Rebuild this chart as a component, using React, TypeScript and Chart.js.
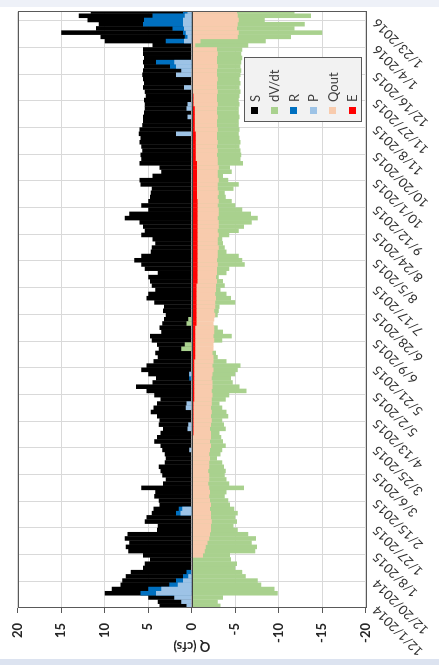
import { useEffect, useRef } from "react";
import { Chart, registerables } from "chart.js";

Chart.register(...registerables);

// Each value covers a 3-day bin starting 12/1/2014
const BIN_DAYS = 3;

const TICK_DAYS = [0, 19, 38, 57, 76, 95, 114, 133, 152, 171, 190, 209, 228, 247, 266, 285, 304, 323, 342, 361, 380, 399, 418];
const TICK_LABELS = [
  "12/1/2014", "12/20/2014", "1/8/2015", "1/27/2015", "2/15/2015", "3/6/2015", "3/25/2015", "4/13/2015",
  "5/2/2015", "5/21/2015", "6/9/2015", "6/28/2015", "7/17/2015", "8/5/2015", "8/24/2015", "9/12/2015",
  "10/1/2015", "10/20/2015", "11/8/2015", "11/27/2015", "12/16/2015", "1/4/2016", "1/23/2016",
];
const Y_TICKS = [20, 15, 10, 5, 0, -5, -10, -15, -20];

const S = [
  3.7, 3.9, 5.0, 10.0, 9.2, 8.2, 8.0, 7.6, 7.0, 5.6,
  5.4, 4.8, 5.6, 7.3, 7.6, 7.2, 7.7, 7.4, 4.0, 3.9,
  5.4, 5.2, 4.6, 4.4, 3.7, 3.8, 4.3, 4.2, 5.8, 3.3,
  3.0, 3.4, 3.6, 3.8, 3.1, 3.0, 3.1, 3.4, 3.6, 4.3,
  4.0, 3.6, 3.3, 3.8, 3.7, 4.0, 4.7, 4.4, 4.0, 3.6,
  4.3, 5.2, 6.4, 4.5, 4.1, 5.0, 5.8, 5.2, 4.4, 3.9,
  4.2, 3.8, 4.0, 4.6, 4.8, 3.5, 3.7, 3.4, 3.2, 3.0,
  3.3, 3.2, 4.3, 5.2, 5.0, 4.2, 4.6, 4.8, 5.0, 3.9,
  5.4, 5.8, 6.6, 5.8, 4.7, 4.6, 4.2, 4.5, 5.8, 5.4,
  5.6, 6.0, 7.7, 7.2, 5.0, 5.8, 5.0, 4.8, 4.7, 4.6,
  5.9, 6.0, 4.5, 3.5, 3.7, 6.0, 5.8, 5.9, 5.7, 5.8,
  6.0, 5.9, 6.1, 6.0, 5.7, 5.6, 5.6, 5.5, 5.4, 5.4,
  5.5, 5.3, 5.4, 5.6, 5.5, 5.6, 5.7, 5.6, 5.5, 5.6,
  5.5, 5.6, 5.6, 4.5, 10.0, 10.5, 15.0, 11.0, 10.7, 12.0,
  13.0, 11.6,
];

const DVDT = [
  -3.3, -3.0, -3.6, -9.9, -9.5, -8.0, -7.6, -6.2, -5.8, -5.0,
  -5.2, -4.5, -4.4, -7.3, -7.5, -6.9, -7.4, -6.5, -5.3, -4.8,
  -5.2, -5.0, -5.3, -4.9, -4.4, -4.2, -3.8, -4.0, -6.0, -4.3,
  -4.0, -3.8, -3.9, -3.7, -3.5, -2.9, -3.3, -3.5, -3.9, -3.6,
  -3.4, -3.2, -3.9, -3.7, -3.5, -4.2, -4.0, -3.5, -3.2, -3.9,
  -4.3, -6.3, -5.5, -4.7, -4.5, -5.0, -5.3, -5.6, -4.0, -3.0,
  -2.8, 1.2, 0.8, -3.5, -4.6, -3.6, -3.0, 0.6, 0.4, -3.0,
  -3.1, -3.2, -5.0, -4.5, -4.0, -3.3, -3.8, -3.6, -3.1, -4.0,
  -4.3, -6.1, -5.8, -5.4, -4.0, -3.8, -3.6, -3.5, -4.3, -5.4,
  -6.0, -6.9, -7.6, -6.8, -5.8, -5.0, -4.6, -3.9, -3.8, -4.8,
  -5.4, -4.2, -3.6, -4.6, -4.4, -5.9, -5.6, -5.7, -5.6, -5.5,
  -5.6, -5.5, -5.4, -5.5, -5.4, -5.4, -5.5, -5.4, -5.4, -5.5,
  -5.4, -5.5, -5.6, -5.5, -5.6, -5.5, -5.6, -5.7, -5.6, -5.7,
  -5.8, -5.7, -5.8, -6.5, -8.5, -11.4, -15.0, -11.8, -13.0, -8.4,
  -13.7, -11.8,
];

const R = [
  0, 0, 0, 5.9, 5.0, 2.6, 1.8, 1.0, 0.6, 0,
  0, 0, 0, 0, 0, 0, 0, 0, 0, 0,
  0, 0, 1.8, 1.5, 0, 0, 0, 0, 0, 0,
  0, 0, 0, 0, 0, 0, 0, 0, 0, 0,
  0, 0, 0, 0, 0, 0, 0, 0, 0, 0,
  0, 0, 0, 0, 0.3, 0.3, 0, 0, 0, 0,
  0, 0, 0, 0, 0, 0, 0, 0, 0, 0,
  0, 0, 0, 0, 0, 0, 0, 0, 0, 0,
  0, 0, 0, 0, 0, 0, 0, 0, 0, 0,
  0, 0, 0, 0, 0, 0, 0, 0, 0, 0,
  0, 0, 0, 0, 0, 0, 0, 0, 0, 0,
  0, 0, 0, 0, 0, 0, 0, 0, 0, 0,
  0, 0, 0, 0, 0, 0, 0, 0, 2.5, 4.1,
  0, 0, 0, 0, 3.0, 0.8, 1.0, 2.2, 5.6, 5.5,
  4.5, 1.0,
];

const P = [
  0.6, 1.2, 2.0, 4.1, 3.5, 1.6, 1.0, 0.4, 0, 0,
  0, 0, 0, 0, 0, 0, 0, 0, 0, 0,
  0, 0, 1.3, 1.1, 0, 0, 0, 0, 0, 0,
  0, 0, 0, 0, 0, 0, 0, 0.3, 0, 0,
  0, 0, 0.5, 0.4, 0, 0, 0, 0.7, 0.6, 0,
  0, 0, 0, 0, 0, 0.3, 0, 0, 0, 0,
  0, 0, 0, 0, 0, 0, 0, 0, 0, 0,
  0, 0, 0, 0, 0, 0, 0, 0, 0, 0,
  0, 0, 0, 0, 0, 0, 0, 0, 0, 0,
  0, 0, 0, 0, 0, 0, 0, 0, 0, 0,
  0, 0, 0, 0, 0, 0, 0, 0, 0, 0,
  0, 0, 1.8, 0, 0, 0, 0.5, 0, 0.6, 0.5,
  0, 0, 0, 0.9, 0, 0, 1.8, 1.2, 1.8, 2.0,
  0, 0, 0, 0, 0.9, 0.5, 0.7, 0.9, 1.0, 1.0,
  0.8, 0.5,
];

const QOUT = [
  0, 0, 0, 0, 0, 0, 0, 0, 0, 0,
  0, 0, -1.3, -1.5, -1.6, -1.8, -2.0, -2.1, -2.2, -2.2,
  -2.3, -2.2, -2.2, -2.1, -2.2, -2.1, -2.0, -2.1, -2.0, -1.9,
  -2.0, -2.0, -1.9, -2.0, -2.0, -2.1, -2.0, -2.1, -2.2, -2.1,
  -2.2, -2.2, -2.1, -2.2, -2.3, -2.2, -2.3, -2.2, -2.3, -2.3,
  -2.4, -2.3, -2.4, -2.4, -2.3, -2.4, -2.5, -2.4, -2.5, -2.5,
  -2.4, -2.5, -2.5, -2.6, -2.5, -2.6, -2.6, -2.5, -2.6, -2.7,
  -2.6, -2.7, -2.7, -2.8, -2.7, -2.8, -2.8, -2.9, -2.8, -2.9,
  -2.9, -3.0, -2.9, -3.0, -3.0, -3.1, -3.0, -3.0, -3.1, -3.0,
  -3.1, -3.1, -3.0, -3.1, -3.1, -3.0, -3.1, -3.0, -3.1, -3.0,
  -3.0, -3.1, -3.0, -3.0, -3.1, -3.0, -3.0, -2.9, -3.0, -2.9,
  -3.0, -2.9, -2.9, -3.0, -2.9, -2.9, -3.0, -2.9, -2.9, -3.0,
  -2.9, -2.9, -3.0, -2.9, -2.9, -3.0, -2.9, -2.9, -3.0, -2.9,
  -2.9, -3.0, -2.9, -0.4, -1.0, -5.3, -5.4, -5.2, -5.3, -5.4,
  -5.3, -5.2,
];

const E = [
  0, 0, 0, 0, 0, 0, 0, 0, 0, 0,
  0, 0, 0, 0, 0, 0, 0, 0, 0, 0,
  0, 0, 0, 0, 0, 0, 0, 0, 0, 0,
  0, 0, 0, 0, -0.05, -0.1, -0.1, -0.1, -0.1, -0.1,
  -0.1, -0.2, -0.2, -0.2, -0.2, -0.2, -0.2, -0.2, -0.2, -0.3,
  -0.3, -0.3, -0.3, -0.3, -0.3, -0.3, -0.3, -0.3, -0.3, -0.4,
  -0.4, -0.4, -0.4, -0.4, -0.4, -0.4, -0.4, -0.55, -0.55, -0.55,
  -0.55, -0.55, -0.55, -0.55, -0.55, -0.55, -0.55, -0.65, -0.65, -0.65,
  -0.65, -0.65, -0.65, -0.65, -0.65, -0.65, -0.65, -0.65, -0.65, -0.65,
  -0.65, -0.65, -0.65, -0.65, -0.65, -0.65, -0.65, -0.6, -0.6, -0.6,
  -0.6, -0.6, -0.6, -0.6, -0.6, -0.6, -0.45, -0.45, -0.45, -0.45,
  -0.45, -0.45, -0.45, -0.35, -0.35, -0.35, -0.35, -0.35, -0.35, -0.2,
  -0.2, -0.2, 0, 0, 0, 0, 0, 0, 0, 0,
  0, 0, 0, 0, 0, 0, 0, 0, 0, 0,
  0, 0,
];

const SERIES = [
  { label: "S", values: S, color: "#000000" },
  { label: "dV/dt", values: DVDT, color: "#a9d18e" },
  { label: "R", values: R, color: "#0070c0" },
  { label: "P", values: P, color: "#9dc3e6" },
  { label: "Qout", values: QOUT, color: "#f8cbad" },
  { label: "E", values: E, color: "#ff0000" },
];

const W = 665;
const H = 439;
const X_MAX = 424.4;
const FONT = "Lato, 'Open Sans', sans-serif";

const framePlugin = {
  id: "frame",
  afterDatasetsDraw(chart: any) {
    const { ctx, chartArea: a, scales } = chart;
    const y0 = Math.round(scales.y.getPixelForValue(0)) + 0.5;
    ctx.save();
    ctx.lineWidth = 1;
    ctx.strokeStyle = "#404040";
    ctx.beginPath();
    ctx.moveTo(a.left, y0);
    ctx.lineTo(a.right, y0);
    ctx.stroke();
    ctx.strokeStyle = "#595959";
    const l = Math.round(a.left) + 0.5;
    const t = Math.round(a.top) + 0.5;
    const r = Math.round(a.right) + 0.5;
    const b = Math.round(a.bottom) + 0.5;
    ctx.strokeRect(l, t, r - l, b - t);
    ctx.restore();
  },
};

export default function App() {
  const ref = useRef<HTMLCanvasElement | null>(null);

  useEffect(() => {
    if (!ref.current) return;
    const chart = new Chart(ref.current, {
      type: "bar",
      data: {
        datasets: SERIES.map((s, i) => ({
          label: s.label,
          data: s.values.map((v, k) => ({ x: k * BIN_DAYS + BIN_DAYS / 2, y: v })),
          backgroundColor: s.color,
          borderWidth: 0,
          grouped: false,
          barPercentage: 1.08,
          categoryPercentage: 1,
          order: SERIES.length - i,
        })),
      },
      options: {
        animation: false,
        responsive: false,
        maintainAspectRatio: false,
        devicePixelRatio: 1,
        layout: { padding: { left: 7, top: 12.7, right: 11.7, bottom: 0 } },
        plugins: { legend: { display: false }, tooltip: { enabled: false } },
        scales: {
          x: {
            type: "linear",
            min: 0,
            max: X_MAX,
            offset: false,
            afterBuildTicks: (s: any) => {
              s.ticks = TICK_DAYS.map((v) => ({ value: v }));
            },
            afterFit: (s: any) => {
              s.height = 73.3;
              s.paddingLeft = 0;
              s.paddingRight = 0;
            },
            ticks: {
              autoSkip: false,
              minRotation: 45,
              maxRotation: 45,
              padding: 4,
              color: "#303030",
              font: { family: FONT, size: 13 },
              callback: (_v: any, i: number) => TICK_LABELS[i],
            },
            grid: { color: "#d9d9d9", offset: false, drawTicks: false },
            border: { display: false },
          },
          y: {
            min: -20,
            max: 20,
            afterBuildTicks: (s: any) => {
              s.ticks = Y_TICKS.map((v) => ({ value: v }));
            },
            afterFit: (s: any) => {
              s.width = 50;
            },
            ticks: {
              padding: 10,
              color: "#262626",
              font: { family: FONT, size: 13, weight: "bold" },
            },
            grid: { color: "#d9d9d9", tickColor: "#595959", tickLength: 5 },
            border: { display: false },
            title: {
              display: true,
              text: "Q (cfs)",
              color: "#262626",
              font: { family: FONT, size: 13, weight: "bold" },
              padding: { top: 4, bottom: 4 },
            },
          },
        },
      },
      plugins: [framePlugin],
    } as any);
    return () => chart.destroy();
  }, []);

  return (
    <div style={{ position: "fixed", left: 0, top: 0, width: 439, height: 665, background: "#ffffff", overflow: "hidden" }}>
      <div style={{ position: "absolute", left: 0, top: 0, width: 439, height: 7, background: "#eef1f8" }} />
      <div style={{ position: "absolute", left: 0, top: 659, width: 439, height: 6, background: "#dce3f0" }} />
      <div
        style={{
          position: "absolute",
          left: 0,
          top: 0,
          width: W,
          height: H,
          transformOrigin: "0 0",
          transform: `translateY(${W}px) rotate(-90deg)`,
        }}
      >
        <canvas ref={ref} width={W} height={H} style={{ display: "block", width: W, height: H }} />
        <div
          style={{
            position: "absolute",
            left: 543,
            top: 244,
            width: 65,
            height: 118,
            background: "#f2f2f2",
            border: "1px solid #595959",
            boxSizing: "border-box",
            fontFamily: FONT,
            fontSize: 13,
            color: "#404040",
          }}
        >
          {SERIES.map((s, i) => (
            <div
              key={s.label}
              style={{
                position: "absolute",
                left: 7,
                top: i * 19.5,
                height: 19,
                display: "flex",
                alignItems: "center",
                whiteSpace: "nowrap",
              }}
            >
              <span style={{ display: "inline-block", width: 7, height: 7, background: s.color, marginRight: 5 }} />
              <span>{s.label}</span>
            </div>
          ))}
        </div>
      </div>
    </div>
  );
}
